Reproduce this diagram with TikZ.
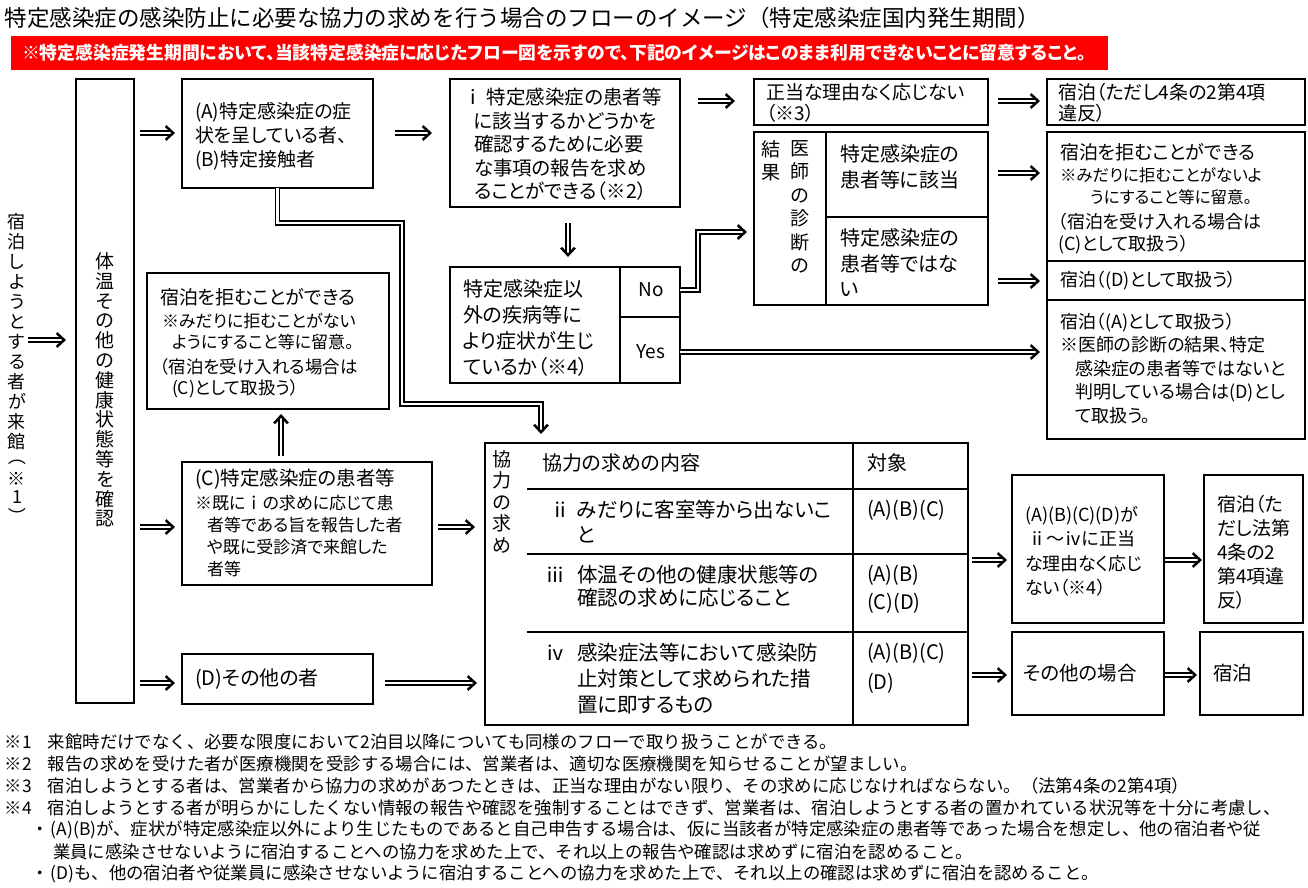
\documentclass[tikz,border=0pt]{standalone}
\usepackage{fontspec}
\usepackage{graphicx}
\setmainfont{Noto Sans CJK JP}[RawFeature={+palt}]
\newfontfamily\fullw{Noto Sans CJK JP}
\usetikzlibrary{arrows.meta,calc,decorations.markings}
\newcommand{\fs}[2]{\fontsize{#1}{#2}\selectfont}
\newcommand{\vp}[1]{\rotatebox[origin=c]{-90}{#1}}
\tikzset{
  box/.style={draw, line width=1.6pt, anchor=north west, inner sep=0pt, outer sep=0pt},
  txt/.style={anchor=north west, inner sep=0pt, outer sep=0pt, align=left},
  ltxt/.style={anchor=west, inner sep=0pt, outer sep=0pt},
  vtxt/.style={anchor=north, inner sep=0pt, outer sep=0pt, align=center},
  darr/.style={draw, double, double distance=2.3pt, line width=1.4pt,
    shorten >=#1+3.5pt,
    postaction={decorate, decoration={markings, mark=at position -#1 with {
      \fill (0,0) -- (-8.5,7.8) -- (-10.2,6) -- (-3.7,0) -- (-10.2,-6) -- (-8.5,-7.8) -- cycle;}}}},
  rule/.style={line width=1.6pt},
  foot/.style={anchor=west, inner sep=0pt, outer sep=0pt, font=\fullw\fs{17.4}{22}},
}
\begin{document}
\begin{tikzpicture}[x=1pt,y=-1pt]
\useasboundingbox[fill=white] (0,0) rectangle (1308,887);

% title and banner
\node[ltxt, font=\fullw\fs{22.5}{26}] (title) at (5,18) {特定感染症の感染防止に必要な協力の求めを行う場合のフローのイメージ（特定感染症国内発生期間）};
\node[fill=red, anchor=north west, minimum width=1097pt, minimum height=34pt, inner sep=0pt] (banner) at (11,36) {};
\node[ltxt, text=white, font=\fs{17.8}{20}\bfseries] (bannertext) at (22,53) {※特定感染症発生期間において、当該特定感染症に応じたフロー図を示すので、下記のイメージはこのまま利用できないことに留意すること。};

% boxes
\node[box, minimum width=58pt, minimum height=624pt] (check) at (76,79) {};
\node[box, minimum width=191pt, minimum height=109pt] (ab) at (182,79) {};
\node[box, minimum width=230pt, minimum height=128pt] (ibox) at (450,79) {};
\node[box, minimum width=234pt, minimum height=46pt] (seito) at (754,79) {};
\node[box, minimum width=258pt, minimum height=46pt] (shuku1) at (1047,79) {};
\node[box, minimum width=234pt, minimum height=173pt] (ishi) at (754,132) {};
\node[box, minimum width=258pt, minimum height=129pt] (kyohi) at (1047,132) {};
\node[box, minimum width=258pt, minimum height=39pt] (shukuD) at (1047,261) {};
\node[box, minimum width=258pt, minimum height=139pt] (shukuA) at (1047,300) {};
\node[box, minimum width=230pt, minimum height=116pt] (igai) at (450,267) {};
\node[box, minimum width=242pt, minimum height=136pt] (kyohiL) at (147,273) {};
\node[box, minimum width=250pt, minimum height=123pt] (cbox) at (182,462) {};
\node[box, minimum width=191pt, minimum height=50pt] (dbox) at (182,654) {};
\node[box, minimum width=483pt, minimum height=282pt] (kyo) at (485,443) {};
\node[box, minimum width=152pt, minimum height=148pt] (abcd) at (1012,475) {};
\node[box, minimum width=99pt, minimum height=148pt] (shuku2) at (1204,475) {};
\node[box, minimum width=152pt, minimum height=83pt] (sonota) at (1012,632) {};
\node[box, minimum width=103pt, minimum height=83pt] (shuku3) at (1200,632) {};

% inner rules
\draw[rule] (826,132) -- (826,305);
\draw[rule] (826,217) -- (988,217);
\draw[rule] (620,267) -- (620,383);
\draw[rule] (620,317) -- (680,317);
\draw[rule] (527,489) -- (968,489);
\draw[rule] (527,554) -- (968,554);
\draw[rule] (527,632) -- (968,632);
\draw[rule] (853,443) -- (853,725);

% vertical texts
\node[vtxt, font=\fs{18}{20}] (visitor) at (17,213) {宿\\泊\\し\\よ\\う\\と\\す\\る\\者\\が\\来\\館\\[-1pt]\vp{（}\\[-2pt]※\\[-2pt]1\\[-4pt]\vp{）}};
\node[vtxt, font=\fs{19}{19.8}] (checktext) at (105,252.5) {体\\温\\そ\\の\\他\\の\\健\\康\\状\\態\\等\\を\\確\\認};

% texts
\node[txt, font=\fs{19}{24}] (abtext) at (195,102.5) {(A)特定感染症の症\\状を呈している者、\\(B)特定接触者};
\node[txt, font=\fs{19.5}{23.5}] (itext) at (474,88) {\hspace*{-11pt}ⅰ 特定感染症の患者等\\に該当するかどうかを\\確認するために必要\\な事項の報告を求め\\ることができる（※2）};
\node[txt, font=\fs{19}{21}] (seitotext) at (766,83.5) {正当な理由なく応じない\\（※3）};
\node[txt, font=\fs{19}{21}] (shuku1text) at (1058,83.5) {宿泊（ただし4条の2第4項\\違反）};

\node[vtxt, font=\fs{19}{23}] (kekka) at (771,140.5) {結\\果};
\node[vtxt, font=\fs{19}{23.4}] (ishishindan) at (800,140.5) {医\\師\\の\\診\\断\\の};
\node[txt, font=\fs{20}{26}] (gaito) at (840,145) {特定感染症の\\患者等に該当};
\node[txt, font=\fs{20}{25.5}] (higaito) at (840,229) {特定感染症の\\患者等ではな\\い};

\node[ltxt, font=\fs{19}{24}] (kt1) at (1060,152) {宿泊を拒むことができる};
\node[txt, font=\fs{16.5}{22}] (kt2) at (1060,167.75) {※みだりに拒むことがないよ\\\hspace*{30pt}うにすること等に留意。};
\node[txt, font=\fs{18}{22}] (kt3) at (1058,213) {（宿泊を受け入れる場合は\\(C)として取扱う）};
\node[ltxt, font=\fs{18}{22}] (dtext) at (1060,281) {宿泊（(D)として取扱う）};
\node[txt, font=\fs{18}{23.5}] (atext) at (1060,313) {宿泊（(A)として取扱う）\\※医師の診断の結果、特定\\\hspace*{15pt}感染症の患者等ではないと\\\hspace*{15pt}判明している場合は(D)とし\\\hspace*{15pt}て取扱う。};

\node[txt, font=\fs{20}{26}] (igaitext) at (463,280) {特定感染症以\\外の疾病等に\\より症状が生じ\\ているか（※4）};
\node[font=\fs{19}{22}, inner sep=0pt] (nol) at (651,290) {No};
\node[font=\fs{19}{22}, inner sep=0pt] (yesl) at (651,352) {Yes};

\node[ltxt, font=\fs{19}{24}] (lt1) at (160,297) {宿泊を拒むことができる};
\node[txt, font=\fs{17}{21}] (lt2) at (162,313.5) {※みだりに拒むことがない\\\hspace*{10pt}ようにすること等に留意。};
\node[txt, font=\fs{17.5}{21}] (lt3) at (160,358.25) {（宿泊を受け入れる場合は\\\hspace*{12pt}(C)として取扱う）};

\node[ltxt, font=\fs{19.5}{22}] (ct1) at (195,479) {(C)特定感染症の患者等};
\node[txt, font=\fs{17}{22}] (ct2) at (195,495.5) {※既に ｉ の求めに応じて患\\\hspace*{12pt}者等である旨を報告した者\\\hspace*{12pt}や既に受診済で来館した\\\hspace*{12pt}者等};
\node[ltxt, font=\fs{20}{22}] (dt) at (195,679) {(D)その他の者};

% cooperation table
\node[vtxt, font=\fs{19}{21.5}] (kyotext) at (502,450.5) {協\\力\\の\\求\\め};
\node[ltxt, font=\fs{20}{24}] (h1) at (542,463) {協力の求めの内容};
\node[ltxt, font=\fs{20}{24}] (h2) at (867,463) {対象};
\node[ltxt, font=\fs{20}{24}] (n2) at (550,510) {ⅱ};
\node[txt, font=\fs{20.5}{25}] (r2) at (577,500) {みだりに客室等から出ないこ\\と};
\node[ltxt, font=\fs{20}{24}] (n3) at (545,575) {ⅲ};
\node[txt, font=\fs{20.5}{23}] (r3) at (577,565) {体温その他の健康状態等の\\確認の求めに応じること};
\node[ltxt, font=\fs{20}{24}] (n4) at (545,653) {ⅳ};
\node[txt, font=\fs{20.5}{26}] (r4) at (577,643) {感染症法等において感染防\\止対策として求められた措\\置に即するもの};
\node[ltxt, font=\fs{20}{24}] (t2) at (867,510) {(A)(B)(C)};
\node[txt, font=\fs{20}{28}] (t3) at (867,565) {(A)(B)\\(C)(D)};
\node[txt, font=\fs{20}{30}] (t4) at (867,643) {(A)(B)(C)\\(D)};

\node[txt, font=\fs{18}{24.5}] (abcdtext) at (1025,506) {(A)(B)(C)(D)が\\\hspace*{3pt}ⅱ～ⅳに正当\\な理由なく応じ\\ない（※4）};
\node[txt, font=\fs{19}{24}] (shuku2text) at (1217,495.5) {宿泊（た\\だし法第\\4条の2\\第4項違\\反）};
\node[ltxt, font=\fs{19.5}{22}] (sonotatext) at (1023,673) {その他の場合};
\node[ltxt, font=\fs{19.5}{22}] (shuku3text) at (1213,673) {宿泊};

% footnotes
\node[foot] (f1) at (5,742) {\makebox[43pt][l]{※1}来館時だけでなく、必要な限度において2泊目以降についても同様のフローで取り扱うことができる。};
\node[foot] (f2) at (5,764) {\makebox[43pt][l]{※2}報告の求めを受けた者が医療機関を受診する場合には、営業者は、適切な医療機関を知らせることが望ましい。};
\node[foot] (f3) at (5,786) {\makebox[43pt][l]{※3}宿泊しようとする者は、営業者から協力の求めがあつたときは、正当な理由がない限り、その求めに応じなければならない。（法第4条の2第4項）};
\node[foot] (f4) at (5,808) {\makebox[43pt][l]{※4}宿泊しようとする者が明らかにしたくない情報の報告や確認を強制することはできず、営業者は、宿泊しようとする者の置かれている状況等を十分に考慮し、};
\node[foot] (f5) at (30,830) {\makebox[21pt][c]{・}(A)(B)が、症状が特定感染症以外により生じたものであると自己申告する場合は、仮に当該者が特定感染症の患者等であった場合を想定し、他の宿泊者や従};
\node[foot] (f6) at (53,852) {業員に感染させないように宿泊することへの協力を求めた上で、それ以上の報告や確認は求めずに宿泊を認めること。};
\node[foot] (f7) at (30,874) {\makebox[21pt][c]{・}(D)も、他の宿泊者や従業員に感染させないように宿泊することへの協力を求めた上で、それ以上の確認は求めずに宿泊を認めること。};

% level coordinates
\coordinate (y340) at (0,340);
\coordinate (y133) at (0,133);
\coordinate (y527) at (0,527);
\coordinate (y683) at (0,683);
\coordinate (y101) at (0,101);
\coordinate (y173) at (0,173);
\coordinate (y281) at (0,281);
\coordinate (y560) at (0,560);
\coordinate (y675) at (0,675);
\coordinate (x568) at (568,0);
\coordinate (x281) at (281,0);
\coordinate (r1) at (402,223);
\coordinate (r2) at (541,404);

% connectors
\draw[darr=10pt, shorten <=2pt] (visitor.east |- y340) -- (check.west |- y340);
\draw[darr=7pt, shorten <=6pt] (check.east |- y133) -- (ab.west |- y133);
\draw[darr=7pt, shorten <=6pt] (check.east |- y527) -- (cbox.west |- y527);
\draw[darr=7pt, shorten <=6pt] (check.east |- y683) -- (dbox.west |- y683);
\draw[darr=18pt, shorten <=22pt] (ab.east |- y133) -- (ibox.west |- y133);
\draw[darr=19pt, shorten <=18pt] (ibox.east |- y101) -- (seito.west |- y101);
\draw[darr=7pt, shorten <=10pt] (seito.east |- y101) -- (shuku1.west |- y101);
\draw[darr=7pt, shorten <=10pt] (ishi.east |- y173) -- (kyohi.west |- y173);
\draw[darr=7pt, shorten <=10pt] (ishi.east |- y281) -- (shukuD.west |- y281);
\draw[darr=10pt, shorten <=16pt] (ibox.south -| x568) -- (igai.north -| x568);
\draw[darr=7pt] (igai.east |- nol) -- ++(18,0) |- ($(ishi.west)+(0,13.5)$);
\draw[darr=7pt] (igai.east |- yesl) -- (shukuA.west |- yesl);
\draw[darr=9pt] (ab.south) |- (r1) -- (r1 |- r2) -- (r2) -- (r2 |- kyo.north);
\draw[darr=5pt, shorten <=6pt] (cbox.north -| x281) -- (kyohiL.south -| x281);
\draw[darr=10pt, shorten <=6pt] (cbox.east |- y527) -- (kyo.west |- y527);
\draw[darr=8pt, shorten <=12pt] (dbox.east |- y683) -- (kyo.west |- y683);
\draw[darr=5pt, shorten <=4pt] (kyo.east |- y560) -- (abcd.west |- y560);
\draw[darr=2pt, shorten <=1pt] (abcd.east |- y560) -- (shuku2.west |- y560);
\draw[darr=5pt, shorten <=4pt] (kyo.east |- y675) -- (sonota.west |- y675);
\draw[darr=3pt, shorten <=1pt] (sonota.east |- y675) -- (shuku3.west |- y675);
\end{tikzpicture}
\end{document}
